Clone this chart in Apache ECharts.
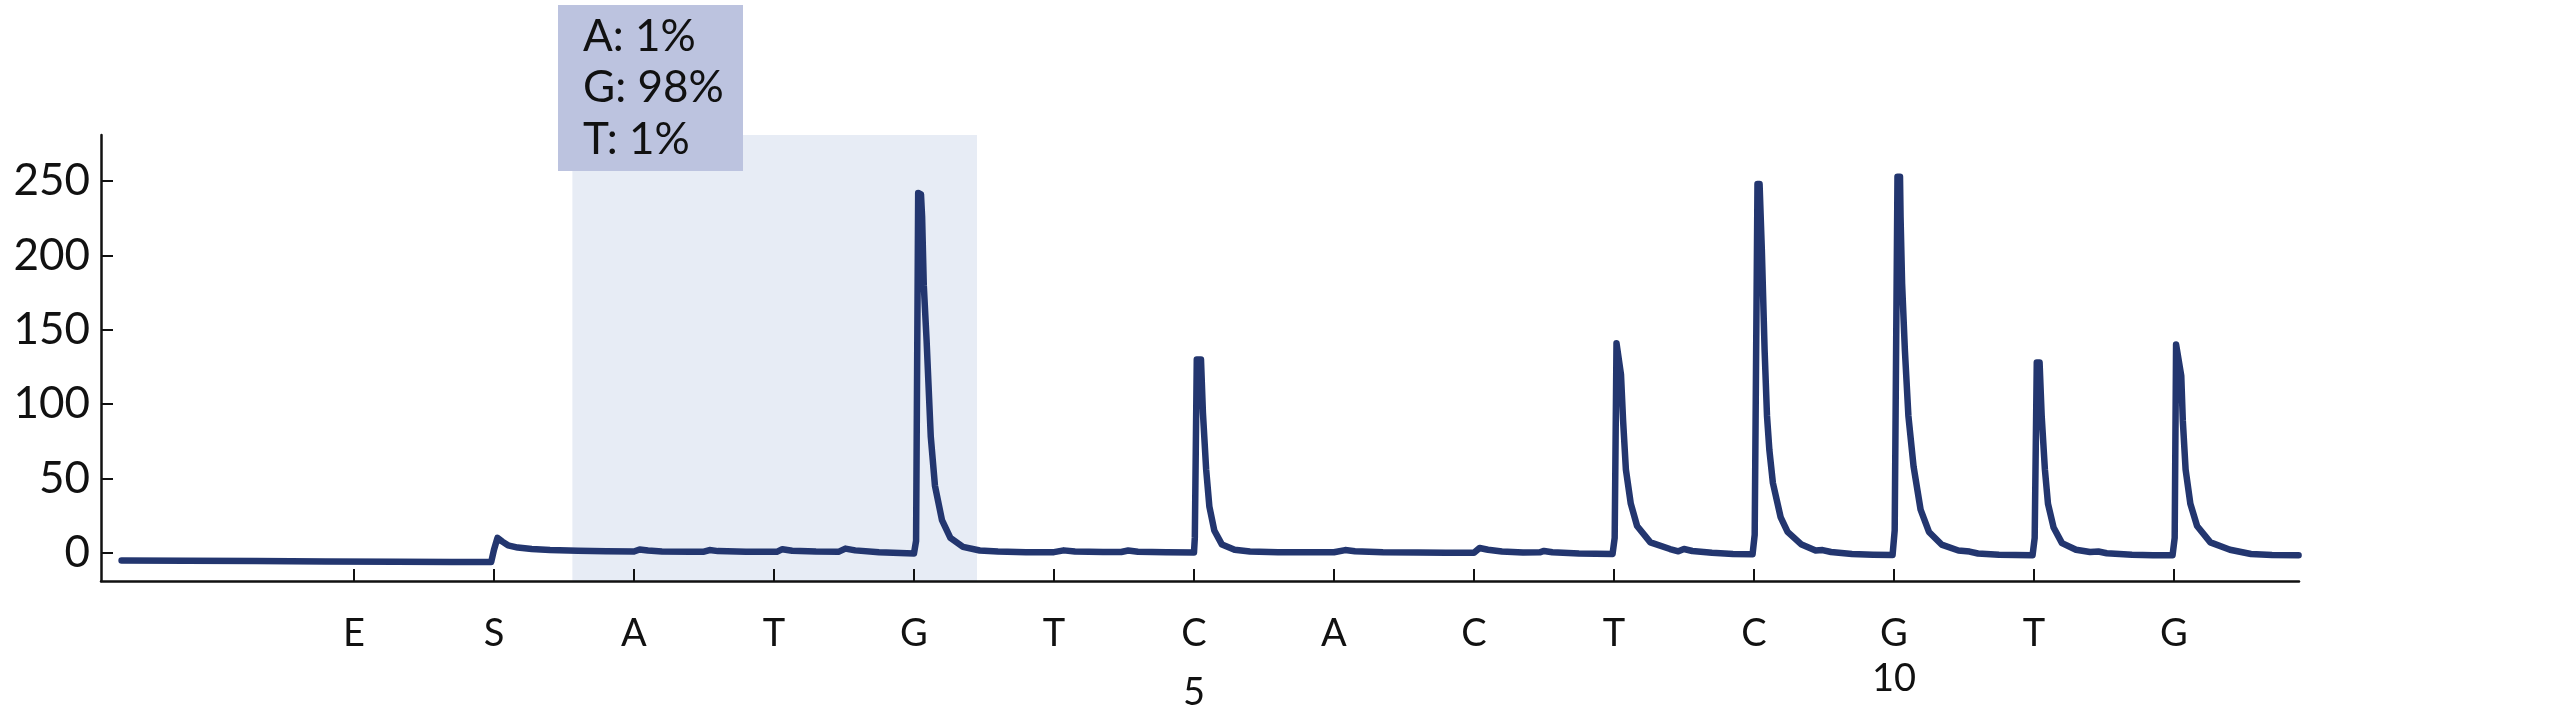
<!DOCTYPE html>
<html>
<head>
<meta charset="utf-8">
<script src="https://cdn.jsdelivr.net/npm/echarts@6/dist/echarts.min.js"></script>
<style>
	html, body { margin: 0; padding: 0; background: #fff; }
	#main { width: 2560px; height: 725px; }
</style>
</head>
<body>
<div id="main"></div>
<script>
	// dispensation order (E = enzyme, S = substrate)
	var dispensation = ['E', 'S', 'A', 'T', 'G', 'T', 'C', 'A', 'C', 'T', 'C', 'G', 'T', 'G']
	// position numbers printed under some dispensations
	var positionNumbers = { 7: '5', 12: '10' }
	var yTicks = [0, 50, 100, 150, 200, 250]

	// highlighted variable position and its allele frequencies
	var highlightRange = [2.56, 5.45]
	var alleleText = ['A: 1%', 'G: 98%', 'T: 1%']

	// pyrogram trace: [dispensation position, signal]
	var signalTrace = [
		[-0.66, -5.2], [-0.2, -5.4], [0.3, -5.6], [0.8, -5.8], [1.3, -6.0], [1.7, -6.2], [1.98, -6.3],
		[2.0, 2], [2.025, 10], [2.06, 7.5], [2.1, 5], [2.17, 3.5], [2.27, 2.5], [2.4, 1.8], [2.6, 1.3], [2.8, 1.0], [3.0, 0.8],
		[3.04, 2.2], [3.1, 1.5], [3.2, 0.9], [3.4, 0.7], [3.5, 0.7], [3.54, 1.8], [3.6, 1.1], [3.8, 0.7],
		[4.02, 0.6], [4.06, 2.4], [4.13, 1.4], [4.3, 0.8], [4.46, 0.6], [4.51, 2.8], [4.58, 1.6], [4.75, 0.3], [4.9, -0.2], [5.0, -0.5],
		[5.015, 8], [5.03, 242], [5.05, 241], [5.058, 226], [5.07, 180], [5.09, 143], [5.12, 78], [5.15, 45], [5.2, 22], [5.26, 10], [5.35, 4], [5.47, 1.5], [5.6, 0.8], [5.8, 0.4],
		[6.0, 0.4], [6.07, 1.6], [6.15, 0.8], [6.35, 0.5], [6.48, 0.5], [6.53, 1.5], [6.6, 0.7], [6.8, 0.3], [7.0, 0.2],
		[7.006, 10], [7.02, 130], [7.05, 130], [7.064, 94], [7.087, 56], [7.11, 31], [7.145, 15], [7.2, 5.5], [7.29, 2], [7.4, 0.8], [7.6, 0.3], [7.8, 0.3],
		[8.0, 0.3], [8.08, 1.8], [8.15, 1.0], [8.35, 0.3], [8.6, 0.1], [8.8, 0.0],
		[9.0, 0.0], [9.04, 3.2], [9.1, 2.0], [9.2, 0.8], [9.35, 0.2], [9.47, 0.3], [9.5, 1.2], [9.56, 0.3], [9.75, -0.5], [9.99, -0.8],
		[10.005, 10], [10.018, 141], [10.05, 120], [10.065, 89], [10.085, 56], [10.12, 33], [10.165, 18], [10.26, 7], [10.4, 2.5], [10.46, 1], [10.5, 2.5], [10.56, 1.2], [10.7, 0], [10.85, -0.8], [10.99, -1.0],
		[11.005, 12], [11.025, 248], [11.04, 248], [11.056, 204], [11.076, 136], [11.093, 92], [11.11, 69], [11.135, 47], [11.19, 24], [11.24, 14], [11.34, 5.5], [11.44, 1.5], [11.49, 1.8], [11.55, 0.5], [11.7, -0.8], [11.85, -1.3], [11.99, -1.5],
		[12.005, 15], [12.025, 253], [12.043, 253], [12.047, 226], [12.058, 181], [12.078, 136], [12.103, 92], [12.14, 58], [12.19, 29], [12.25, 14], [12.34, 5.5], [12.46, 1.5], [12.54, 0.8], [12.6, -0.5], [12.75, -1.4], [12.99, -1.6],
		[13.005, 10], [13.02, 128], [13.04, 128], [13.055, 92], [13.078, 56], [13.1, 33], [13.14, 17], [13.2, 6.5], [13.3, 2], [13.4, 0.5], [13.46, 0.8], [13.52, -0.3], [13.7, -1.3], [13.85, -1.6], [13.99, -1.6],
		[14.005, 10], [14.015, 140], [14.052, 119], [14.063, 89], [14.083, 56], [14.117, 33], [14.165, 18], [14.26, 7], [14.4, 2], [14.55, -0.8], [14.7, -1.5], [14.89, -1.6]
	]

	var positions = dispensation.map(function (d, i) { return i + 1 })
	var fontName = 'Lato, "Noto Sans", sans-serif'

	var myChart = echarts.init(document.getElementById('main'))

	var option = {
		backgroundColor: '#ffffff',
		animation: false,
		grid: {
			left: 101,
			right: 261,
			top: 135,
			bottom: 144
		},
		xAxis: {
			type: 'value',
			min: -0.807,
			max: 14.893,
			z: 10,
			splitLine: { show: false },
			axisLine: { onZero: false, lineStyle: { color: '#111', width: 2.5 } },
			axisTick: {
				inside: true,
				length: 12,
				customValues: positions,
				lineStyle: { color: '#111', width: 2 }
			},
			axisLabel: {
				customValues: positions,
				margin: 33,
				color: '#111',
				fontFamily: fontName,
				fontSize: 38,
				formatter: function (val) {
					var letter = dispensation[val - 1]
					var num = positionNumbers[val]
					if (num) {
						return '{l|' + letter + '}\n{n' + num + '|' + num + '}'
					}
					return '{l|' + letter + '}'
				},
				rich: {
					l: { fontSize: 38, lineHeight: 40, fontFamily: fontName, color: '#111' },
					n5: { fontSize: 38, lineHeight: 78, fontFamily: fontName, color: '#111' },
					n10: { fontSize: 38, lineHeight: 50, fontFamily: fontName, color: '#111' }
				}
			}
		},
		yAxis: {
			type: 'value',
			min: -19,
			max: 281,
			z: 10,
			splitLine: { show: false },
			axisLine: { show: true, onZero: false, lineStyle: { color: '#111', width: 2.5 } },
			axisTick: {
				show: true,
				inside: true,
				length: 12,
				customValues: yTicks,
				lineStyle: { color: '#111', width: 2 }
			},
			axisLabel: {
				customValues: yTicks,
				margin: 11,
				color: '#111',
				fontFamily: fontName,
				fontSize: 44
			}
		},
		series: [
			{
				type: 'line',
				data: signalTrace,
				showSymbol: false,
				smooth: false,
				lineStyle: { color: '#23366f', width: 6.5, join: 'round', cap: 'round' },
				markArea: {
					silent: true,
					itemStyle: { color: '#e7ecf5' },
					data: [
						[{ xAxis: highlightRange[0], yAxis: 281 }, { xAxis: highlightRange[1], yAxis: -19 }]
					]
				}
			}
		],
		graphic: [
			{
				type: 'rect',
				left: 558,
				top: 5,
				shape: { width: 185, height: 166 },
				style: { fill: '#bcc3df' },
				z: 20
			},
			{
				type: 'text',
				left: 583,
				top: 11,
				style: {
					text: alleleText.join('\n'),
					font: '44px ' + fontName,
					lineHeight: 51.5,
					fill: '#111'
				},
				z: 21
			}
		]
	}

	myChart.setOption(option)
</script>
</body>
</html>
